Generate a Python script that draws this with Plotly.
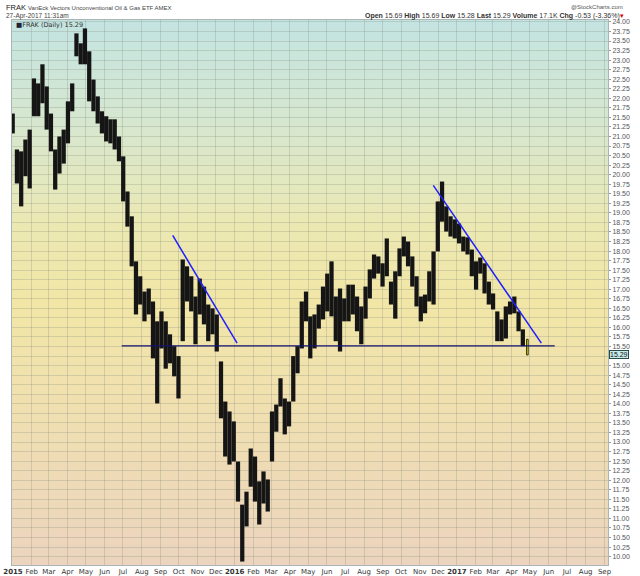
import plotly.graph_objects as go
import pandas as pd
import numpy as np

# ---------------- data (weekly high / low) ----------------
week_high = [21.60, 20.66, 20.61, 20.92, 21.18, 22.52, 22.39, 22.89, 22.31, 21.60,
             20.66, 21.00, 21.18, 21.92, 22.39, 23.70, 23.44, 23.83, 23.23, 22.49,
             22.05, 21.66, 21.53, 21.45, 21.45, 21.00, 20.48, 19.56, 18.91, 17.73,
             17.34, 16.94, 17.02, 16.68, 16.16, 16.42, 16.16, 15.82, 15.51, 15.25,
             17.78, 17.60, 17.34, 16.81, 17.28, 17.07, 16.60, 16.50, 16.34, 15.11,
             14.06, 13.80, 13.54, 12.49, 11.36, 11.70, 12.83, 12.62, 11.97, 12.23,
             12.02, 13.80, 13.98, 14.67, 14.14, 14.06, 15.25, 15.51, 16.68, 16.94,
             16.29, 16.34, 16.60, 17.07, 17.41, 17.73, 16.81, 17.02, 16.76, 17.12,
             17.12, 16.81, 16.55, 17.07, 17.52, 17.91, 17.86, 17.68, 18.33, 17.20,
             17.47, 18.07, 18.38, 18.25, 17.86, 17.34, 16.81, 16.86, 17.47, 17.99,
             19.30, 19.82, 19.17, 18.91, 18.83, 18.72, 18.38, 18.36, 18.04, 17.73,
             17.83, 17.68, 17.20, 16.89, 16.42, 16.21, 16.55, 16.68, 16.81, 16.42,
             15.95]
week_low = [21.08, 19.77, 19.17, 19.96, 19.64, 21.53, 21.53, 21.87, 21.18, 20.61,
            19.61, 20.03, 20.29, 20.82, 21.66, 23.10, 22.89, 22.89, 21.92, 21.66,
            21.34, 21.08, 20.87, 20.82, 20.66, 20.35, 19.30, 18.64, 17.60, 16.34,
            16.60, 16.16, 16.34, 15.19, 14.01, 15.45, 14.92, 15.06, 14.72, 14.14,
            15.64, 16.68, 16.42, 15.56, 16.34, 16.08, 15.64, 15.82, 15.37, 13.62,
            12.62, 12.41, 12.49, 11.44, 9.87, 10.79, 11.83, 11.44, 10.84, 11.39,
            11.18, 12.49, 13.27, 13.93, 13.20, 13.41, 14.06, 14.80, 15.45, 16.16,
            15.19, 15.45, 15.97, 16.21, 16.42, 16.29, 15.64, 15.37, 16.16, 16.16,
            16.34, 15.90, 15.56, 16.23, 16.76, 17.28, 17.41, 17.07, 17.34, 16.60,
            16.23, 17.34, 17.86, 17.60, 17.07, 16.55, 16.16, 16.37, 16.68, 16.60,
            17.99, 18.77, 18.51, 18.38, 18.33, 18.20, 17.99, 17.91, 17.34, 16.99,
            17.41, 16.89, 16.60, 16.47, 15.64, 15.64, 15.71, 16.34, 16.37, 15.90,
            15.51]
first_week_mid = "2014-12-31 12:00"

last_day = "2017-04-27"
last_open, last_high, last_low, last_close = 15.69, 15.69, 15.28, 15.29

support_x = ["2015-06-29", "2017-06-11"]
support_y = [15.52, 15.52]
trend1_x = ["2015-09-21", "2016-01-05"]
trend1_y = [18.41, 15.59]
trend2_x = ["2016-11-23", "2017-05-20"]
trend2_y = [19.72, 15.59]

month_ticks = pd.date_range("2015-01-01", "2017-09-01", freq="MS")
month_text = ["<b>2015</b>", "Feb", "Mar", "Apr", "May", "Jun", "Jul", "Aug", "Sep", "Oct", "Nov", "Dec",
              "<b>2016</b>", "Feb", "Mar", "Apr", "May", "Jun", "Jul", "Aug", "Sep", "Oct", "Nov", "Dec",
              "<b>2017</b>", "Feb", "Mar", "Apr", "May", "Jun", "Jul", "Aug", "Sep"]
price_ticks = [v / 4 for v in range(40, 97) if v != 61]   # 10.00 .. 24.00, 15.25 hidden by price box

# ---------------- figure ----------------
W, H_REF = 640, 576
H = 595                      # page height that the capture is squeezed from
S = H / H_REF
ML, MR = 10, 30
MT_REF, MB_REF = 19, 12
MT, MB = round(MT_REF * S), round(MB_REF * S)
FONT = "DejaVu Sans"
LFONT = "Liberation Sans"

week_mid = pd.date_range(first_week_mid, periods=len(week_high), freq="7D")
hi = np.array(week_high)
lo = np.array(week_low)

fig = go.Figure()
fig.add_trace(go.Bar(x=week_mid, y=hi - lo, base=lo, width=7 * 86400000,
                     marker=dict(color="#151515", line=dict(width=0)),
                     hoverinfo="skip", showlegend=False))
fig.add_trace(go.Bar(x=[last_day], y=[last_high - last_low], base=[last_low], width=2.6 * 86400000,
                     marker=dict(color="#ffff00", line=dict(width=0.8, color="#000000")),
                     hoverinfo="skip", showlegend=False))
fig.add_trace(go.Scatter(x=support_x, y=support_y, mode="lines",
                         line=dict(color="#12126e", width=1.3), hoverinfo="skip", showlegend=False))
for tx, ty in ((trend1_x, trend1_y), (trend2_x, trend2_y)):
    fig.add_trace(go.Scatter(x=tx, y=ty, mode="lines",
                             line=dict(color="#1f1fff", width=1.5), hoverinfo="skip", showlegend=False))

# gradient background (style only)
stops = [(0.0, (236, 212, 190)), (0.30, (240, 224, 176)), (0.48, (241, 230, 166)),
         (0.62, (236, 232, 178)), (0.80, (216, 231, 206)), (1.0, (195, 228, 226))]
def col_at(t):
    for (t0, c0), (t1, c1) in zip(stops[:-1], stops[1:]):
        if t0 <= t <= t1:
            f = (t - t0) / (t1 - t0)
            return "rgb(%d,%d,%d)" % tuple(round(a + (b - a) * f) for a, b in zip(c0, c1))
    return "rgb(%d,%d,%d)" % stops[-1][1]
nb = 80
shapes = []
for i in range(nb):
    y0 = i / nb
    y1 = (i + 1) / nb
    shapes.append(dict(type="rect", xref="paper", yref="paper", x0=0, x1=1,
                       y0=y0, y1=min(1, y1 + 0.004), fillcolor=col_at((y0 + y1) / 2),
                       line=dict(width=0), layer="below"))

def px_x(px):
    return (px - ML) / (W - ML - MR)

def px_y(py):
    return (H_REF - MB_REF - py) / (H_REF - MT_REF - MB_REF)

annotations = [
    dict(x=px_x(2), y=px_y(6), xref="paper", yref="paper", xanchor="left", yanchor="middle",
         text="FRAK", showarrow=False, font=dict(family=LFONT, size=7.5, color="#222")),
    dict(x=px_x(24), y=px_y(6.5), xref="paper", yref="paper", xanchor="left", yanchor="middle",
         text="VanEck Vectors Unconventional Oil & Gas ETF AMEX", showarrow=False,
         font=dict(family=LFONT, size=6, color="#444")),
    dict(x=px_x(2), y=px_y(15), xref="paper", yref="paper", xanchor="left", yanchor="middle",
         text="27-Apr-2017 11:31am", showarrow=False,
         font=dict(family=LFONT, size=6.5, color="#444")),
    dict(x=px_x(627), y=px_y(6), xref="paper", yref="paper", xanchor="right", yanchor="middle",
         text="@StockCharts.com", showarrow=False,
         font=dict(family=LFONT, size=6, color="#555")),
    dict(x=px_x(628), y=px_y(15), xref="paper", yref="paper", xanchor="right", yanchor="middle",
         text=("<b>Open</b> 15.69 <b>High</b> 15.69 <b>Low</b> 15.28 <b>Last</b> 15.29 "
               "<b>Volume</b> 17.1K <b>Chg</b> -0.53 (-3.36%)<span style='color:#d00000'>▾</span>"),
         showarrow=False, font=dict(family=LFONT, size=7, color="#333")),
    dict(x=px_x(12), y=px_y(24), xref="paper", yref="paper", xanchor="left", yanchor="middle",
         text="<span style='color:#223'>■</span>FRAK (Daily) 15.29", showarrow=False,
         font=dict(family=FONT, size=6.5, color="#333")),
    dict(x=1, y=last_close, xref="paper", yref="y", xanchor="left", yanchor="middle", xshift=1,
         text="15.29", showarrow=False, bgcolor="#c8ecea", bordercolor="#2a4a4a", borderwidth=1,
         borderpad=0, font=dict(family=LFONT, size=7, color="#111")),
]

grid = "rgba(140,145,130,0.30)"
fig.update_layout(
    width=W, height=H, margin=dict(l=ML, r=MR, t=MT, b=MB),
    paper_bgcolor="white", plot_bgcolor="rgba(0,0,0,0)",
    shapes=shapes, annotations=annotations, showlegend=False, hovermode=False,
    xaxis=dict(type="date", range=["2014-12-30 09:00", "2017-09-06 18:00"],
               tickvals=month_ticks, ticktext=month_text, ticks="",
               showgrid=True, gridcolor=grid, gridwidth=1, zeroline=False,
               showline=True, linecolor="#aab6b6", linewidth=1, mirror=True,
               tickfont=dict(family=FONT, size=7, color="#333")),
    yaxis=dict(side="right", range=[9.78, 24.05], tickvals=price_ticks, tickformat=".2f",
               ticks="outside", ticklen=2, tickcolor="#999", showgrid=True, gridcolor=grid,
               minor=dict(tickvals=[15.25], showgrid=True, gridcolor=grid, ticks=""),
               zeroline=False, showline=True, linecolor="#aab6b6", linewidth=1, mirror=True,
               tickfont=dict(family=LFONT, size=7, color="#555")),
)

fig.write_html("out.html", config={"displayModeBar": False, "staticPlot": True},
               post_script="document.body.style.margin='0px';document.body.style.overflow='hidden';")
